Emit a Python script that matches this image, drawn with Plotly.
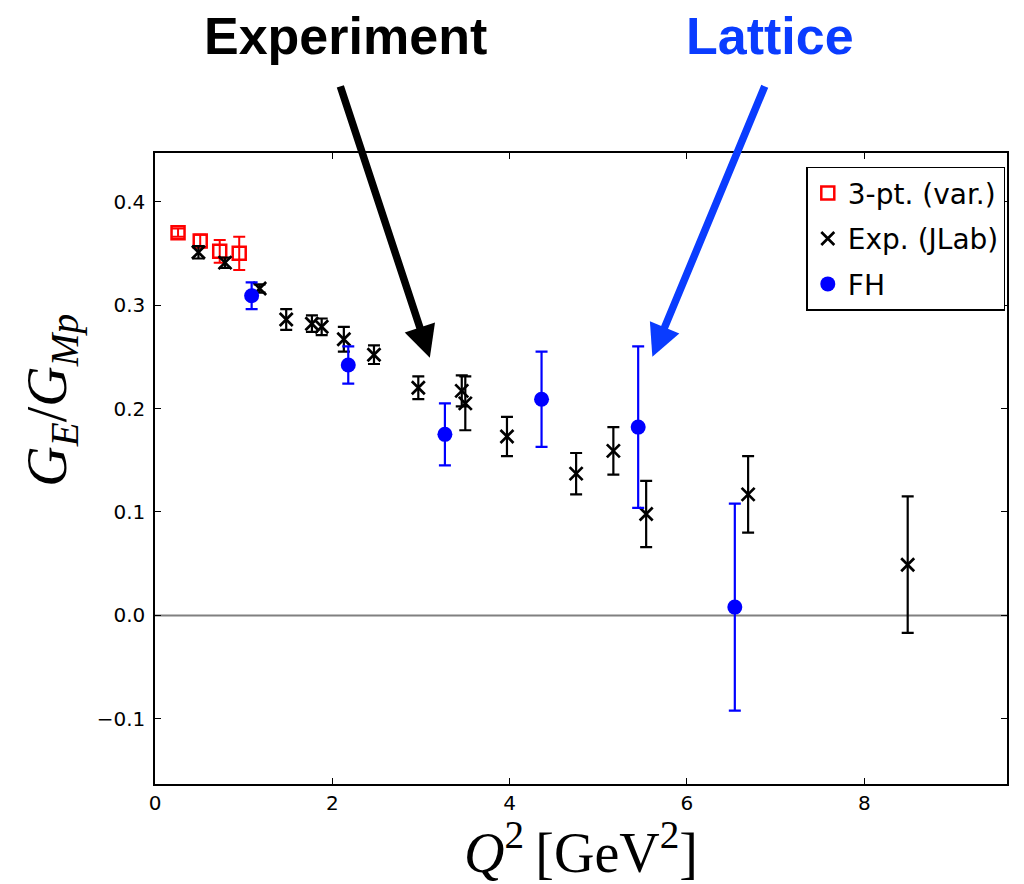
import plotly.graph_objects as go

# 3-pt (variational) lattice results
x_3pt = [0.26, 0.51, 0.73, 0.95]
y_3pt = [0.370, 0.362, 0.352, 0.350]
e_3pt = [0.004, 0.006, 0.011, 0.016]

# Experiment (JLab)
x_exp = [0.49, 0.79, 1.18, 1.48, 1.77, 1.88, 2.13, 2.47, 2.97, 3.46, 3.50,
         3.97, 4.75, 5.17, 5.54, 6.69, 8.49]
y_exp = [0.351, 0.341, 0.316, 0.286, 0.282, 0.279, 0.267, 0.252, 0.220, 0.217,
         0.205, 0.173, 0.137, 0.159, 0.098, 0.117, 0.049]
e_exp = [0.006, 0.005, 0.004, 0.010, 0.008, 0.008, 0.012, 0.009, 0.011, 0.015,
         0.026, 0.019, 0.020, 0.023, 0.032, 0.037, 0.066]

# Feynman-Hellmann lattice results
x_fh = [1.09, 2.18, 3.27, 4.36, 5.45, 6.54]
y_fh = [0.309, 0.242, 0.175, 0.209, 0.182, 0.008]
e_fh = [0.013, 0.018, 0.030, 0.046, 0.078, 0.100]

x_ticks = [0, 2, 4, 6, 8]
y_ticks = [-0.1, 0.0, 0.1, 0.2, 0.3, 0.4]
y_tick_text = ["\u22120.1", "0.0", "0.1", "0.2", "0.3", "0.4"]

RED = "#ff0000"
BLUE = "#0000ff"
ANN_BLUE = "#0a3cff"

fig = go.Figure()
fig.add_trace(go.Scatter(
    x=x_3pt, y=y_3pt, mode="markers", name="3-pt. (var.)", legendgroup="a",
    marker=dict(symbol="square-open", size=13, color=RED, line=dict(width=2.5, color=RED)),
    error_y=dict(type="data", array=e_3pt, color=RED, thickness=2, width=6),
))
fig.add_trace(go.Scatter(
    x=x_exp, y=y_exp, mode="markers", name="Exp. (JLab)", legendgroup="b",
    marker=dict(symbol="x-thin", size=13, color="black", line=dict(width=2.7, color="black")),
    error_y=dict(type="data", array=e_exp, color="black", thickness=2.2, width=6),
))
fig.add_trace(go.Scatter(
    x=x_fh, y=y_fh, mode="markers", name="FH", legendgroup="c",
    marker=dict(symbol="circle", size=15, color=BLUE),
    error_y=dict(type="data", array=e_fh, color=BLUE, thickness=2.2, width=6),
))

fig.add_shape(type="line", xref="paper", x0=0, x1=1, yref="y", y0=0, y1=0,
              line=dict(color="#808080", width=2), layer="below")

annotations = [
    dict(xref="paper", yref="paper", x=0.224, y=1.186, text="<b>Experiment</b>",
         showarrow=False, xanchor="center", yanchor="middle",
         font=dict(family="Liberation Sans", size=52, color="black")),
    dict(xref="paper", yref="paper", x=0.722, y=1.186, text="<b>Lattice</b>",
         showarrow=False, xanchor="center", yanchor="middle",
         font=dict(family="Liberation Sans", size=52, color=ANN_BLUE)),
    dict(xref="x", yref="y", x=3.10, y=0.249, text="", showarrow=True,
         ax=-90, ay=-273, axref="pixel", ayref="pixel",
         arrowhead=2, arrowwidth=7.5, arrowsize=0.85, arrowcolor="black"),
    dict(xref="x", yref="y", x=5.61, y=0.250, text="", showarrow=True,
         ax=113, ay=-272, axref="pixel", ayref="pixel",
         arrowhead=2, arrowwidth=7.5, arrowsize=0.85, arrowcolor=ANN_BLUE),
    # y-axis label
    dict(xref="paper", yref="paper", x=-0.121, y=0.609, textangle=-90,
         text="<i>G</i><sub><i>E</i></sub>/<i>G</i><sub><i>Mp</i></sub>",
         showarrow=False, xanchor="center", yanchor="middle",
         font=dict(family="Liberation Serif", size=56, color="black")),
]

fig.update_layout(
    width=1024, height=884,
    margin=dict(l=155, r=17, t=153, b=100, autoexpand=False),
    paper_bgcolor="white", plot_bgcolor="white",
    showlegend=True,
    legend=dict(x=0.998, y=0.978, xanchor="right", yanchor="top",
                bgcolor="white", bordercolor="black", borderwidth=1.5,
                font=dict(family="DejaVu Sans", size=28, color="black"),
                tracegroupgap=6, itemwidth=30),
    annotations=annotations,
    xaxis=dict(range=[0, 9.61], tickvals=x_ticks, ticks="inside", ticklen=6,
               tickwidth=1, tickcolor="black", showline=True, linecolor="black",
               linewidth=1.5, mirror="ticks", showgrid=False, zeroline=False,
               tickfont=dict(family="DejaVu Sans", size=20, color="black"),
               title=dict(text="<i>Q</i><sup>2</sup>\u2009[GeV<sup>2</sup>]",
                          font=dict(family="Liberation Serif", size=56, color="black"),
                          standoff=0)),
    yaxis=dict(range=[-0.163, 0.447], tickvals=y_ticks, ticktext=y_tick_text,
               ticks="inside", ticklen=6, tickwidth=1, tickcolor="black",
               showline=True, linecolor="black", linewidth=1.5, mirror="ticks",
               showgrid=False, zeroline=False, ticklabelstandoff=4,
               tickfont=dict(family="DejaVu Sans", size=20, color="black")),
)

fig.write_html("out.html")
